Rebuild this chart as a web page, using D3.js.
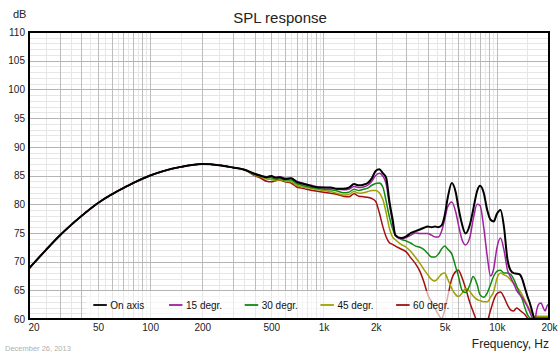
<!DOCTYPE html>
<html><head><meta charset="utf-8">
<script src="https://cdn.jsdelivr.net/npm/d3@7"></script>
<style>
body{margin:0;background:#fff}
svg{display:block}
text{font-family:Arial,"Liberation Sans",sans-serif}
</style>
</head><body>
<svg id="chart" width="560" height="356"></svg>
<script>
// ---------- DATA ----------
const freqs = [20,25,30,40,50,60,70,80,100,120,150,200,250,300,350,400,
  430,470,500,530,560,600,650,700,750,800,
  900,1000,1100,1200,1300,1400,1500,1600,1700,1800,1900,2000,2100,2200,2300,2400,2500,2600,
  2800,3000,3200,3400,3600,3800,4000,4200,4400,4600,4800,
  5000,5200,5500,5800,6000,6300,6600,7000,7300,7700,8000,8400,8800,9200,9600,
  10000,10500,11000,11500,12000,12500,13000,13500,14000,14500,15000,15500,16000,16500,17000,17500,18000,18500,19000,19500,20000];

const onAxis = [68.8,72.0,74.5,77.9,80.2,81.7,82.8,83.7,85.0,85.8,86.5,87.0,86.8,86.4,86.0,85.3,
  85.0,84.7,84.9,84.6,84.7,84.4,84.5,83.9,83.6,83.4,
  83.0,82.9,82.9,82.7,82.7,82.9,83.5,83.3,83.4,83.7,84.5,85.8,86.1,85.4,84.6,80.5,77.5,74.6,
  74.1,74.4,75.0,75.3,75.6,75.9,76.1,76.0,76.1,76.0,76.3,
  78.0,81.0,83.7,82.0,79.5,76.5,74.9,76.5,79.0,82.3,83.2,82.0,79.0,77.3,77.0,
  78.3,79.0,76.0,70.5,68.5,68.0,67.9,67.8,67.0,65.5,64.0,62.8,61.3,59.8,58.0,56,55,54,53,52,51];

const deg15 = [68.8,72.0,74.5,77.9,80.2,81.7,82.8,83.7,85.0,85.8,86.5,87.0,86.8,86.4,86.0,85.3,
  85.0,84.8,84.9,84.7,84.8,84.5,84.5,84.0,83.7,83.5,
  83.1,82.9,82.8,82.6,82.5,82.6,83.1,82.9,83.0,83.3,84.0,85.0,85.4,84.9,83.5,80.0,77.0,74.5,
  74.0,74.2,74.6,75.0,74.9,74.9,74.9,74.6,74.3,74.3,75.3,
  77.3,79.5,80.4,78.6,76.5,73.8,72.9,74.3,77.3,80.0,79.8,76.0,71.0,67.5,68.8,
  72.3,74.1,72.0,68.6,67.3,66.2,65.0,64.3,63.8,63.0,62.2,61.2,60.2,59.6,61.6,62.6,62.8,62.0,61.4,62.3,62.6];

const deg30 = [68.8,72.0,74.5,77.9,80.2,81.7,82.8,83.7,85.0,85.8,86.5,87.0,86.8,86.4,86.0,85.2,
  84.9,84.6,84.6,84.3,84.5,84.2,84.2,83.6,83.3,83.1,
  82.8,82.6,82.5,82.3,82.0,82.1,82.6,82.4,82.6,82.8,83.3,83.6,83.7,83.0,80.5,77.8,75.8,74.6,
  73.9,73.6,73.2,72.7,72.5,72.1,71.4,70.8,70.8,71.3,72.2,
  72.7,72.2,71.3,69.0,67.5,65.0,64.6,66.0,67.4,66.0,64.2,63.8,64.5,66.0,67.5,
  68.3,68.5,68.0,68.0,67.8,67.0,65.8,64.5,63.5,62.0,60.8,60.2,60.1,60.1,60.2,60.2,60.2,60.2,60.2,60.2,60.2];

const deg45 = [68.8,72.0,74.5,77.9,80.2,81.7,82.8,83.7,85.0,85.8,86.5,87.0,86.8,86.4,86.0,85.1,
  84.8,84.4,84.3,84.1,84.3,84.0,83.9,83.3,83.0,82.9,
  82.6,82.4,82.2,81.9,81.6,81.7,82.2,81.9,82.0,82.2,82.4,82.4,82.0,80.8,78.5,75.8,74.3,73.8,
  73.0,72.5,71.7,70.7,69.7,68.6,67.7,66.9,66.6,67.2,67.8,
  68.0,67.0,65.3,64.2,63.9,64.5,65.3,64.8,64.0,63.4,63.2,63.0,63.0,63.8,64.8,
  67.0,68.0,67.7,67.4,66.8,66.2,65.6,65.0,64.2,63.3,62.4,61.6,60.8,60.4,60.5,60.5,60.5,60.5,60.5,60.5,60.5];

const deg60 = [68.8,72.0,74.5,77.9,80.2,81.7,82.8,83.7,85.0,85.8,86.5,87.0,86.8,86.4,86.0,85.0,
  84.6,84.0,83.9,84.1,84.2,83.9,83.7,83.0,82.8,82.6,
  82.3,82.1,81.9,81.7,81.4,81.3,81.8,81.4,81.3,81.2,81.0,80.5,78.5,76.1,74.3,73.3,73.0,72.7,
  72.2,71.7,70.6,69.6,68.3,66.4,64.2,63.0,61.8,60.8,60.1,
  61.5,63.8,67.0,68.3,68.5,67.2,65.4,62.8,61.3,59.5,58.5,58.2,59.5,61.5,63.3,
  64.4,64.7,63.8,62.5,61.6,61.4,61.9,61.6,61.2,60.8,60.2,59.5,58.5,57.5,57,56.5,56,55.5,55,55,55];

const seriesNames = ["On axis","15 degr.","30 degr.","45 degr.","60 degr."];
const seriesValues = [onAxis, deg15, deg30, deg45, deg60];
const seriesColors = ["#000000","#a020a0","#108a10","#a0a000","#a01010"];
const seriesWidths = [2, 1.5, 1.5, 1.5, 1.5];

const xTickValues = [20,50,100,200,500,1000,2000,5000,10000,20000];
const xTickLabels = ["20","50","100","200","500","1k","2k","5k","10k","20k"];
const yTickValues = [60,65,70,75,80,85,90,95,100,105,110];

// ---------- CHART ----------
const svg = d3.select("#chart");
const L = 29, R = 549, T = 32, B = 319;
const x = d3.scaleLog().domain([20,20000]).range([L,R]);
const y = d3.scaleLinear().domain([60,110]).range([B,T]);

// grid
const majorF = [], minorF = [];
for (let p = 10; p <= 10000; p *= 10) {
  for (let d = 1; d <= 9; d++) {
    const v = d*p; if (v >= 20 && v <= 20000) majorF.push(v);
    const h = (d+0.5)*p; if (h > 20 && h < 20000) minorF.push(h);
  }
}
const g = svg.append("g").attr("shape-rendering","crispEdges");
const px = v => Math.round(v) + 0.5;
g.selectAll(".vmin").data(minorF).join("line")
  .attr("x1",d=>px(x(d))).attr("x2",d=>px(x(d))).attr("y1",T).attr("y2",B)
  .attr("stroke","#e6e6e6");
g.selectAll(".hmin").data(d3.range(61,110).filter(v=>v%5!==0)).join("line")
  .attr("y1",d=>px(y(d))).attr("y2",d=>px(y(d))).attr("x1",L).attr("x2",R)
  .attr("stroke","#e6e6e6");
g.selectAll(".vmaj").data(majorF).join("line")
  .attr("x1",d=>px(x(d))).attr("x2",d=>px(x(d))).attr("y1",T).attr("y2",B)
  .attr("stroke","#bdbdbd");
g.selectAll(".hmaj").data(yTickValues).join("line")
  .attr("y1",d=>px(y(d))).attr("y2",d=>px(y(d))).attr("x1",L).attr("x2",R)
  .attr("stroke","#b4b4b4");

// curves
svg.append("clipPath").attr("id","clip").append("rect")
  .attr("x",L).attr("y",T).attr("width",R-L).attr("height",B-T);
const line = d3.line().x(d=>x(d[0])).y(d=>y(d[1])).curve(d3.curveMonotoneX);
const cg = svg.append("g").attr("clip-path","url(#clip)");
for (let i = seriesNames.length-1; i >= 0; i--) {
  cg.append("path").datum(freqs.map((f,k)=>[f, seriesValues[i][k]]))
    .attr("d", line).attr("fill","none")
    .attr("stroke", seriesColors[i]).attr("stroke-width", seriesWidths[i])
    .attr("stroke-linejoin","round");
}

// legend
svg.append("rect").attr("x",86).attr("y",291).attr("width",366).attr("height",28)
  .attr("fill","#fff").attr("fill-opacity",0.65);
const lg = svg.append("g").selectAll("g").data(seriesNames).join("g")
  .attr("transform",(d,i)=>`translate(${93.3+75.7*i},305)`);
lg.append("line").attr("x1",0).attr("x2",13.5).attr("y1",0).attr("y2",0)
  .attr("stroke",(d,i)=>seriesColors[i]).attr("stroke-width",1.8);
lg.append("text").attr("x",17).attr("y",3.6).attr("font-size","10px").attr("fill","#111").text(d=>d);

// frame
svg.append("rect").attr("x",L).attr("y",T).attr("width",R-L).attr("height",B-T)
  .attr("fill","none").attr("stroke","#000").attr("stroke-width",2);

// axes
const ya = svg.append("g").attr("transform",`translate(${L},0)`)
  .call(d3.axisLeft(y).tickValues(yTickValues).tickSize(0).tickPadding(4).tickFormat(d3.format("d")));
ya.select(".domain").remove();
ya.selectAll("text").attr("font-size","10px").attr("fill","#222").attr("font-family","Arial, 'Liberation Sans', sans-serif");

const xa = svg.append("g").attr("transform",`translate(0,${B})`)
  .call(d3.axisBottom(x).tickValues(xTickValues).tickSize(0).tickPadding(5)
    .tickFormat((d,i)=>xTickLabels[i]));
xa.select(".domain").remove();
xa.selectAll("text").attr("font-size","10px").attr("fill","#222").attr("font-family","Arial, 'Liberation Sans', sans-serif");
xa.selectAll("text").filter((d,i)=>i===0).attr("text-anchor","start").attr("x",-1);

// titles
svg.append("text").attr("x",280).attr("y",23).attr("text-anchor","middle")
  .attr("font-size","15px").attr("fill","#222").text("SPL response");
svg.append("text").attr("x",13).attr("y",18).attr("font-size","11px").attr("fill","#222").text("dB");
svg.append("text").attr("x",549).attr("y",348).attr("text-anchor","end")
  .attr("font-size","12px").attr("fill","#222").text("Frequency, Hz");
svg.append("text").attr("x",5).attr("y",351).attr("font-size","7.5px").attr("fill","#b0b0b0").text("December 26, 2013");
</script>
</body></html>
